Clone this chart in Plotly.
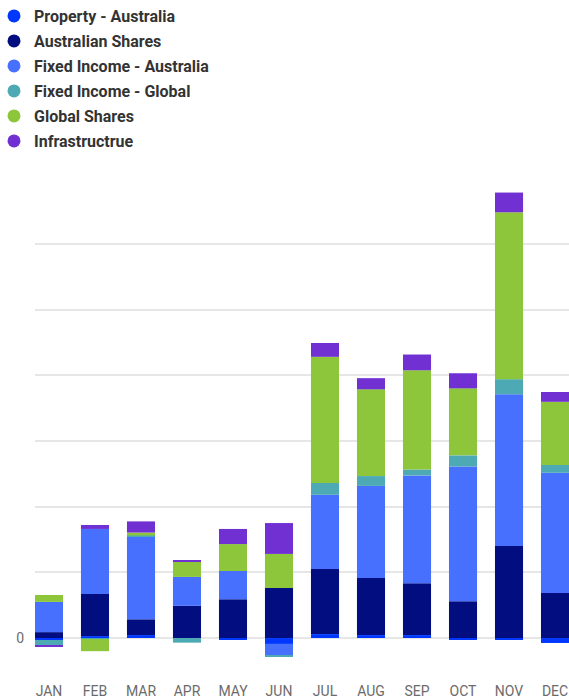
import plotly.graph_objects as go

months = ["JAN", "FEB", "MAR", "APR", "MAY", "JUN", "JUL", "AUG", "SEP", "OCT", "NOV", "DEC"]

property_au   = [-0.3, 0.3, 0.45, 0.0, -0.25, -0.9, 0.6, 0.45, 0.45, -0.15, -0.15, -0.75]
aus_shares    = [0.9, 6.4, 2.4, 4.9, 5.9, 7.6, 9.9, 8.7, 7.9, 5.6, 14.0, 6.85]
fi_australia  = [4.6, 9.9, 12.6, 4.4, 4.3, -1.8, 11.3, 14.0, 16.4, 20.5, 23.1, 18.3]
fi_global     = [-0.8, -0.15, 0.15, -0.7, 0.0, -0.15, 1.8, 1.5, 0.9, 1.7, 2.3, 1.2]
global_shares = [1.05, -1.85, 0.45, 2.3, 4.1, 5.2, 19.2, 13.2, 15.1, 10.2, 25.4, 9.6]
infrastructure = [-0.15, 0.6, 1.7, 0.15, 2.3, 4.7, 2.1, 1.7, 2.4, 2.3, 3.0, 1.5]

series_names = ["Property - Australia", "Australian Shares", "Fixed Income - Australia",
                "Fixed Income - Global", "Global Shares", "Infrastructrue"]
series_values = [property_au, aus_shares, fi_australia, fi_global, global_shares, infrastructure]
series_colors = ["#0037FF", "#020D80", "#4870FF", "#4DAAB4", "#8DC63B", "#7130D2"]

y_ticks = [0, 10, 20, 30, 40, 50, 60]
y_ticktext = ["0", "", "", "", "", "", ""]

fig = go.Figure()
for name, vals, col in zip(series_names, series_values, series_colors):
    fig.add_trace(go.Bar(x=months, y=vals, name=name, marker=dict(color=col, line=dict(width=0)),
                         showlegend=False, legendgroup=name))
for name, col in zip(series_names, series_colors):
    fig.add_trace(go.Scatter(x=[None], y=[None], mode="markers", name=name, legendgroup=name,
                             marker=dict(symbol="circle", size=13, color=col)))

W, H = 569, 699
L, R, T, B = 35, 0, 185, 18
pw, ph = W - L - R, H - T - B
plot_bottom = H - B

fig.update_layout(
    width=W, height=H,
    margin=dict(l=L, r=R, t=T, b=B, autoexpand=False),
    barmode="relative",
    bargap=0.39,
    plot_bgcolor="white",
    paper_bgcolor="white",
    font=dict(family="Roboto", size=14, color="#666666"),
    legend=dict(
        xref="paper", yref="paper",
        x=(-6 - L) / pw, y=(plot_bottom + 1) / ph, xanchor="left", yanchor="top",
        orientation="v",
        traceorder="grouped",
        tracegroupgap=1.2,
        font=dict(family="Roboto", size=16, color="#333333", weight="bold"),
        itemsizing="trace",
        bgcolor="rgba(0,0,0,0)",
    ),
    xaxis=dict(
        range=[-0.304, 11.304],
        showgrid=False, zeroline=False, showline=False,
        ticks="", tickangle=0,
        tickfont=dict(family="Roboto", size=14, color="#6b6b6b"),
    ),
    yaxis=dict(
        range=[-6.54, 68.95],
        tickmode="array", tickvals=y_ticks, ticktext=y_ticktext,
        showgrid=True, gridcolor="#e6e6e6", gridwidth=1.5,
        zeroline=True, zerolinecolor="#e6e6e6", zerolinewidth=1.5,
        showline=False, ticks="",
        ticklabelstandoff=10,
        tickfont=dict(family="Roboto", size=14, color="#6b6b6b"),
    ),
)

fig.write_html(
    "out.html",
    config={"displayModeBar": False},
    post_script="document.body.style.margin='0';document.body.style.overflow='hidden';",
)
